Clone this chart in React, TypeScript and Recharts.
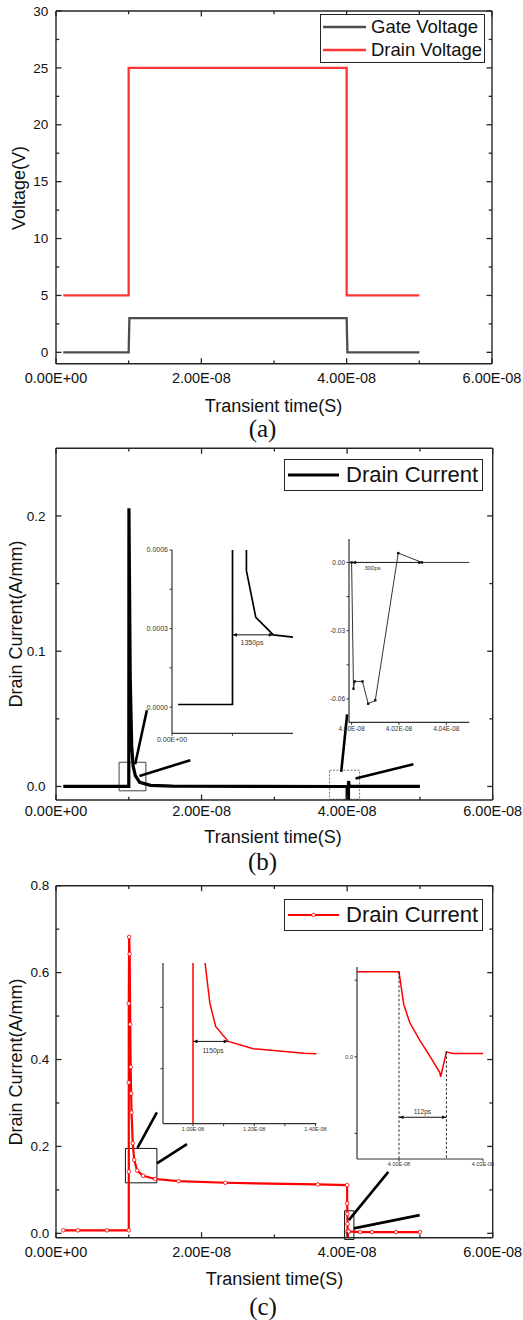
import React from "react";
import {
  LineChart,
  Line,
  XAxis,
  YAxis,
  Legend,
  ReferenceArea,
  ReferenceLine,
  ReferenceDot,
} from "recharts";

const SANS = '"Liberation Sans", Arial, Helvetica, sans-serif';
const SERIF = '"Liberation Serif", "Times New Roman", serif';
const FRAME = "#262626";
const W = 523;
const PANEL_H = 440;

// Time axis shared by all three panels (seconds)
const TIME_DOMAIN: [number, number] = [0, 6e-8];
const TIME_MAJOR = [0, 2e-8, 4e-8, 6e-8];
const TIME_MINOR = [1e-8, 3e-8, 5e-8];

// (a) gate / drain voltage
const GATE_T = [1e-9, 1.0e-8, 1.01e-8, 4.0e-8, 4.01e-8, 5.0e-8];
const GATE_V = [0, 0, 3, 3, 0, 0];
const VDRAIN_T = [1e-9, 1.0e-8, 1.0e-8, 4.0e-8, 4.0e-8, 5.0e-8];
const VDRAIN_V = [5, 5, 25, 25, 5, 5];
const VOLT_MAJOR = [0, 5, 10, 15, 20, 25, 30];
const VOLT_MINOR = [2.5, 7.5, 12.5, 17.5, 22.5, 27.5];

// (b) drain current, black trace
const IB_T = [
  1e-9, 1.0e-8, 1.002e-8, 1.02e-8, 1.04e-8, 1.06e-8, 1.09e-8, 1.15e-8, 1.3e-8, 1.6e-8,
  4.0e-8, 4.0008e-8, 4.0013e-8, 4.0046e-8, 4.007e-8, 4.01e-8, 4.0197e-8, 4.0297e-8, 5.0e-8,
];
const IB_I = [
  0, 0, 0.2056, 0.08, 0.03, 0.015, 0.008, 0.003, 0.0008, 0.0002,
  0, -0.0555, -0.0523, -0.0523, -0.0621, -0.0606, 0.0041, 0, 0,
];
const IB_MAJOR = [0, 0.1, 0.2];
const IB_MINOR = [0.05, 0.15];
// (b) left inset
const IB_ZOOM_T = [0.82e-8, 1.0e-8, 1.003e-8, 1.046e-8, 1.077e-8, 1.135e-8, 1.2e-8];
const IB_ZOOM_I = [0.00001, 0.00001, 0.2056, 0.000521, 0.000343, 0.000276, 0.000267];

// (c) drain current, red trace with markers
const IC_T = [
  1e-9, 3e-9, 7e-9, 1.0e-8, 1.0e-8, 1.0e-8, 1.0e-8,
  1.005e-8, 1.012e-8, 1.02e-8, 1.026e-8, 1.032e-8, 1.038e-8,
  1.055e-8, 1.074e-8, 1.115e-8, 1.197e-8, 1.363e-8, 1.684e-8, 2.326e-8, 3.597e-8, 4.0e-8,
  4.00112e-8, 4.00255e-8, 4.00493e-8, 4.00731e-8, 4.00969e-8, 4.00993e-8, 4.01129e-8, 4.01286e-8, 4.02e-8,
  4.18e-8, 4.34e-8, 4.67e-8, 5.0e-8,
];
const IC_I = [
  0.007, 0.007, 0.007, 0.007, 0.142, 0.347, 0.529,
  0.682, 0.643, 0.481, 0.383, 0.322, 0.278,
  0.2072, 0.169, 0.1445, 0.1326, 0.125, 0.12, 0.1164, 0.1126, 0.111,
  0.0687, 0.0448, 0.0218, 0.0013, -0.0203, -0.0261, 0.0065, 0.0044, 0.0044,
  0.003, 0.003, 0.003, 0.003,
];
const IC_MAJOR = [0, 0.2, 0.4, 0.6, 0.8];
const IC_MINOR = [0.1, 0.3, 0.5, 0.7];

const pts = (t: number[], v: number[]) => t.map((x, i) => ({ x, y: v[i] }));

// 2e-8 -> "2.00E-08"
const sci = (v: number) => {
  const [m, e] = v.toExponential(2).split("e");
  const n = Number(e);
  return `${m}E${n < 0 ? "-" : "+"}${String(Math.abs(n)).padStart(2, "0")}`;
};
const onlyFor = (major: number[], fmt: (v: number) => string) => (v: number) =>
  major.includes(v) ? fmt(v) : "";

type Side = "bottom" | "left" | "top" | "right";

// Inward ticks like the Origin frame; labels only on major ticks.
function frameTick(side: Side, major: number[], fmt?: (v: number) => string, gap = 0) {
  return (props: any) => {
    const { x, y, payload } = props;
    const v = payload.value as number;
    const isMajor = major.includes(v);
    const len = isMajor ? 5.5 : 3.3;
    const d =
      side === "bottom" ? [x, y, x, y - len]
      : side === "top" ? [x, y, x, y + len]
      : side === "left" ? [x, y, x + len, y]
      : [x, y, x - len, y];
    return (
      <g>
        <line x1={d[0]} y1={d[1]} x2={d[2]} y2={d[3]} stroke={FRAME} strokeWidth={1.3} />
        {isMajor && fmt && side === "bottom" && (
          <text x={x} y={y + gap} dy="0.35em" textAnchor="middle" fontSize={14.5} fontFamily={SANS} fill="#111">
            {fmt(v)}
          </text>
        )}
        {isMajor && fmt && side === "left" && (
          <text x={x - gap} y={y} dy="0.35em" textAnchor="end" fontSize={13.5} fontFamily={SANS} fill="#111">
            {fmt(v)}
          </text>
        )}
      </g>
    );
  };
}

const AXIS_LINE = { stroke: FRAME, strokeWidth: 1.4 };

// Four-sided frame: axes are 1px thick so Recharts still draws them;
// chart margins are reduced by that 1px so the plot box stays put.
function frameAxes(
  yDomain: [number, number],
  yMajor: number[],
  yMinor: number[],
  yFmt: (v: number) => string,
  yGap: number,
  xGap: number,
) {
  const xTicks = [...TIME_MAJOR, ...TIME_MINOR];
  const yTicks = [...yMajor, ...yMinor];
  const common = { allowDataOverflow: true, interval: 0 as const, tickSize: 0, tickMargin: 0, tickLine: false, axisLine: AXIS_LINE };
  return [
    <XAxis key="xb" type="number" dataKey="x" domain={TIME_DOMAIN} ticks={xTicks} height={1} {...common} tick={frameTick("bottom", TIME_MAJOR, sci, xGap)} />,
    <XAxis key="xt" xAxisId="top" orientation="top" type="number" dataKey="x" domain={TIME_DOMAIN} ticks={xTicks} height={1} {...common} tick={frameTick("top", TIME_MAJOR)} />,
    <YAxis key="yl" type="number" domain={yDomain} ticks={yTicks} width={1} {...common} tick={frameTick("left", yMajor, yFmt, yGap)} />,
    <YAxis key="yr" yAxisId="right" orientation="right" type="number" domain={yDomain} ticks={yTicks} width={1} {...common} tick={frameTick("right", yMajor)} />,
  ];
}

// plot box (left, top, right, bottom) -> margins for 1px frame axes
const frameMargin = (l: number, t: number, r: number, b: number) => ({
  left: l - 1,
  top: t - 1,
  right: W - r - 1,
  bottom: PANEL_H - b - 1,
});

type LegendOpts = { order: string[]; fontSize: number; rowH: number; lineW: number; padL: number; gap: number; stroke: number; marker?: boolean };
function legendContent(o: LegendOpts) {
  return (props: any) => {
    const items = [...(props.payload || [])].sort(
      (a: any, b: any) => o.order.indexOf(a.value) - o.order.indexOf(b.value),
    );
    return (
      <div
        style={{
          width: "100%",
          height: "100%",
          boxSizing: "border-box",
          border: `1.3px solid ${FRAME}`,
          background: "#fff",
          display: "flex",
          flexDirection: "column",
          justifyContent: "center",
          fontFamily: SANS,
        }}
      >
        {items.map((item: any) => (
          <div key={item.value} style={{ display: "flex", alignItems: "center", height: o.rowH, paddingLeft: o.padL }}>
            <svg width={o.lineW} height={10} style={{ flex: "none" }}>
              <line x1={0} y1={5} x2={o.lineW} y2={5} stroke={item.color} strokeWidth={o.stroke} />
              {o.marker && <circle cx={o.lineW / 2} cy={5} r={1.8} fill="#fff" stroke={item.color} strokeWidth={0.8} />}
            </svg>
            <span style={{ marginLeft: o.gap, fontSize: o.fontSize, lineHeight: 1, color: "#111", whiteSpace: "nowrap" }}>
              {item.value}
            </span>
          </div>
        ))}
      </div>
    );
  };
}

function Text({ x, y, size, font = SANS, rotate = false, children }: any) {
  return (
    <div
      style={{
        position: "absolute",
        left: x - 150,
        top: y - size / 2,
        width: 300,
        height: size,
        lineHeight: `${size}px`,
        fontSize: size,
        fontFamily: font,
        textAlign: "center",
        color: "#111",
        whiteSpace: "nowrap",
        transform: rotate ? "rotate(-90deg)" : undefined,
      }}
    >
      {children}
    </div>
  );
}

// Double-headed dimension arrow drawn along a reference segment
function arrowShape(props: any) {
  const { x1, y1, x2, y2 } = props;
  const a = Math.atan2(y2 - y1, x2 - x1);
  const head = (x: number, y: number, dir: number) => {
    const L = 4.5;
    const H = 1.8;
    const bx = x - Math.cos(dir) * L;
    const by = y - Math.sin(dir) * L;
    return `${x},${y} ${bx - Math.sin(dir) * H},${by + Math.cos(dir) * H} ${bx + Math.sin(dir) * H},${by - Math.cos(dir) * H}`;
  };
  return (
    <g>
      <line x1={x1} y1={y1} x2={x2} y2={y2} stroke="#111" strokeWidth={1} />
      <polygon points={head(x2, y2, a)} fill="#111" />
      <polygon points={head(x1, y1, a + Math.PI)} fill="#111" />
    </g>
  );
}

type InsetSpec = {
  box: [number, number, number, number];
  xDomain: [number, number];
  yDomain: [number, number];
  xTicks: number[];
  yTicks: number[];
  xLabel: (v: number) => string;
  yLabel: (v: number) => string;
  fontSize: number;
};

function Inset({ spec, children }: { spec: InsetSpec; children: React.ReactNode }) {
  const [l, t, w, h] = spec.box;
  const yw = 40;
  const xh = 14;
  const mt = 6;
  const mr = 16;
  const tick = { fontSize: spec.fontSize, fill: "#333", fontFamily: SANS };
  return (
    <div style={{ position: "absolute", left: l - yw, top: t - mt }}>
      <LineChart width={yw + w + mr} height={mt + h + xh} margin={{ top: mt, right: mr, bottom: 0, left: 0 }}>
        <XAxis
          type="number"
          dataKey="x"
          domain={spec.xDomain}
          allowDataOverflow
          ticks={spec.xTicks}
          interval={0}
          height={xh}
          tickSize={2.5}
          tickMargin={1}
          tickFormatter={spec.xLabel}
          tick={tick}
          axisLine={{ stroke: "#333", strokeWidth: 1.2 }}
          tickLine={{ stroke: "#333" }}
        />
        <YAxis
          type="number"
          domain={spec.yDomain}
          allowDataOverflow
          ticks={spec.yTicks}
          interval={0}
          width={yw}
          tickSize={2.5}
          tickMargin={1.5}
          tickFormatter={spec.yLabel}
          tick={tick}
          axisLine={{ stroke: "#333", strokeWidth: 1.2 }}
          tickLine={{ stroke: "#333" }}
        />
        {children}
      </LineChart>
    </div>
  );
}

const INSET_B1: InsetSpec = {
  box: [172.3, 110, 121, 183.3],
  xDomain: [0.8e-8, 1.2e-8],
  yDomain: [-0.0001, 0.0006],
  xTicks: [0.8e-8, 1.0e-8],
  yTicks: [0, 0.00015, 0.0003, 0.00045, 0.0006],
  xLabel: (v) => (v === 0.8e-8 ? "0.00E+00" : ""),
  yLabel: onlyFor([0, 0.0003, 0.0006], (v) => v.toFixed(4)),
  fontSize: 7,
};
const INSET_B2: InsetSpec = {
  box: [349, 99.3, 120.3, 183.4],
  xDomain: [3.9989e-8, 4.0497e-8],
  yDomain: [-0.0703, 0.0103],
  xTicks: [4.0e-8, 4.02e-8, 4.04e-8],
  yTicks: [-0.06, -0.045, -0.03, -0.015, 0],
  xLabel: sci,
  yLabel: onlyFor([0, -0.03, -0.06], (v) => v.toFixed(2)),
  fontSize: 6.5,
};
const INSET_C1: InsetSpec = {
  box: [163.3, 83.3, 153.4, 160.7],
  xDomain: [0.902e-8, 1.403e-8],
  yDomain: [0.0103, 0.2724],
  xTicks: [1.0e-8, 1.1e-8, 1.2e-8, 1.3e-8, 1.4e-8],
  yTicks: [0.1, 0.2],
  xLabel: onlyFor([1.0e-8, 1.2e-8, 1.4e-8], sci),
  yLabel: () => "",
  fontSize: 5.5,
};
const INSET_C2: InsetSpec = {
  box: [357.3, 87.3, 126, 192],
  xDomain: [3.99e-8, 4.02e-8],
  yDomain: [-0.1335, 0.1173],
  xTicks: [4.0e-8, 4.02e-8],
  yTicks: [-0.1, 0, 0.1],
  xLabel: sci,
  yLabel: onlyFor([0], (v) => v.toFixed(1)),
  fontSize: 5.5,
};

const squareDot = (p: any) => (
  <rect key={`sq-${p.index}`} x={p.cx - 1.2} y={p.cy - 1.2} width={2.4} height={2.4} fill="#111" />
);

const CONNECTOR = { stroke: "#000", strokeWidth: 2.6, ifOverflow: "visible" as const };

function PanelA() {
  return (
    <div style={{ position: "absolute", left: 0, top: 0, width: W, height: PANEL_H }}>
      <LineChart width={W} height={PANEL_H} margin={frameMargin(56, 11, 492, 363.7)}>
        {frameAxes([-1, 30], VOLT_MAJOR, VOLT_MINOR, (v) => String(v), 7.7, 14.6)}
        <Line data={pts(GATE_T, GATE_V)} dataKey="y" name="Gate Voltage" type="linear" stroke="#4d4d4d" strokeWidth={2.3} dot={false} isAnimationActive={false} />
        <Line data={pts(VDRAIN_T, VDRAIN_V)} dataKey="y" name="Drain Voltage" type="linear" stroke="#ff3535" strokeWidth={2.3} dot={false} isAnimationActive={false} />
        <Legend
          verticalAlign="middle"
          align="center"
          content={legendContent({ order: ["Gate Voltage", "Drain Voltage"], fontSize: 18.5, rowH: 23.3, lineW: 43, padL: 2, gap: 5, stroke: 2.3 })}
          wrapperStyle={{ left: 320, top: 14, width: 165, height: 49 }}
        />
      </LineChart>
      <Text x={19} y={187.5} size={18} rotate>Voltage(V)</Text>
      <Text x={273.5} y={405.5} size={18}>Transient time(S)</Text>
      <Text x={262.5} y={428} size={25} font={SERIF}>(a)</Text>
    </div>
  );
}

function PanelB() {
  const ib = pts(IB_T, IB_I);
  return (
    <div style={{ position: "absolute", left: 0, top: PANEL_H, width: W, height: PANEL_H }}>
      <LineChart width={W} height={PANEL_H} margin={frameMargin(56, 8.3, 492.7, 360)}>
        {frameAxes([-0.01, 0.25], IB_MAJOR, IB_MINOR, (v) => v.toFixed(1), 10.5, 11)}
        <ReferenceArea x1={0.867e-8} x2={1.235e-8} y1={-0.0032} y2={0.0179} fill="none" stroke="#444" strokeWidth={1} ifOverflow="visible" />
        <ReferenceArea x1={3.758e-8} x2={4.171e-8} y1={-0.0094} y2={0.012} fill="none" stroke="#666" strokeWidth={0.9} strokeDasharray="2 1.5" ifOverflow="visible" />
        <Line data={ib} dataKey="y" name="Drain Current" type="linear" stroke="#000" strokeWidth={3.2} dot={false} isAnimationActive={false} />
        <ReferenceLine segment={[{ x: 1.0874e-8, y: 0.0164 }, { x: 1.2485e-8, y: 0.0564 }]} {...CONNECTOR} />
        <ReferenceLine segment={[{ x: 1.1466e-8, y: 0.0078 }, { x: 1.8445e-8, y: 0.0194 }]} {...CONNECTOR} />
        <ReferenceLine segment={[{ x: 3.919e-8, y: 0.0108 }, { x: 4.0e-8, y: 0.0533 }]} {...CONNECTOR} />
        <ReferenceLine segment={[{ x: 4.1156e-8, y: 0.0059 }, { x: 4.91e-8, y: 0.0164 }]} {...CONNECTOR} />
        <Legend
          verticalAlign="middle"
          align="center"
          content={legendContent({ order: ["Drain Current"], fontSize: 22, rowH: 30, lineW: 51, padL: 3, gap: 7, stroke: 3 })}
          wrapperStyle={{ left: 284, top: 19, width: 199, height: 32 }}
        />
      </LineChart>
      <Inset spec={INSET_B1}>
        <Line data={pts(IB_ZOOM_T, IB_ZOOM_I)} dataKey="y" type="linear" stroke="#000" strokeWidth={1.7} dot={false} isAnimationActive={false} />
        <ReferenceLine segment={[{ x: 1.0e-8, y: 0.000276 }, { x: 1.135e-8, y: 0.000276 }]} shape={arrowShape} ifOverflow="visible" />
        <ReferenceDot x={1.0645e-8} y={0.000248} r={0} fill="none" stroke="none" ifOverflow="visible" label={{ value: "1350ps", position: "center", fontSize: 7, fill: "#333", fontFamily: SANS }} />
      </Inset>
      <Inset spec={INSET_B2}>
        <Line data={ib} dataKey="y" type="linear" stroke="#333" strokeWidth={1} dot={squareDot} isAnimationActive={false} />
        <ReferenceLine segment={[{ x: 4.0e-8, y: 0 }, { x: 4.03e-8, y: 0 }]} shape={arrowShape} ifOverflow="visible" />
        <ReferenceDot x={4.00885e-8} y={-0.0025} r={0} fill="none" stroke="none" ifOverflow="visible" label={{ value: "300ps", position: "center", fontSize: 6, fill: "#333", fontFamily: SANS }} />
      </Inset>
      <Text x={16} y={184} size={18} rotate>Drain Current(A/mm)</Text>
      <Text x={273} y={396.7} size={18}>Transient time(S)</Text>
      <Text x={262.5} y={421.7} size={25} font={SERIF}>(b)</Text>
    </div>
  );
}

function PanelC() {
  const ic = pts(IC_T, IC_I);
  return (
    <div style={{ position: "absolute", left: 0, top: 2 * PANEL_H, width: W, height: PANEL_H }}>
      <LineChart width={W} height={PANEL_H} margin={frameMargin(56, 5.7, 492.7, 357.7)}>
        {frameAxes([-0.01, 0.8], IC_MAJOR, IC_MINOR, (v) => v.toFixed(1), 6.7, 14.6)}
        <Line
          data={ic}
          dataKey="y"
          name="Drain Current"
          type="linear"
          stroke="#ff0000"
          strokeWidth={2.2}
          dot={{ r: 1.8, fill: "#fff", stroke: "#ff0000", strokeWidth: 0.8 }}
          isAnimationActive={false}
        />
        <ReferenceArea x1={0.954e-8} x2={1.386e-8} y1={0.1163} y2={0.1954} fill="none" stroke="#111" strokeWidth={1} ifOverflow="visible" />
        <ReferenceArea x1={3.965e-8} x2={4.093e-8} y1={-0.014} y2={0.052} fill="none" stroke="#111" strokeWidth={1} ifOverflow="visible" />
        <ReferenceLine segment={[{ x: 1.119e-8, y: 0.1968 }, { x: 1.386e-8, y: 0.2782 }]} {...CONNECTOR} />
        <ReferenceLine segment={[{ x: 1.386e-8, y: 0.161 }, { x: 1.799e-8, y: 0.2053 }]} {...CONNECTOR} />
        <ReferenceLine segment={[{ x: 4.023e-8, y: 0.0306 }, { x: 4.566e-8, y: 0.1416 }]} {...CONNECTOR} />
        <ReferenceLine segment={[{ x: 4.092e-8, y: 0.0115 }, { x: 4.996e-8, y: 0.042 }]} {...CONNECTOR} />
        <Legend
          verticalAlign="middle"
          align="center"
          content={legendContent({ order: ["Drain Current"], fontSize: 22, rowH: 30, lineW: 51, padL: 3, gap: 7, stroke: 2.2, marker: true })}
          wrapperStyle={{ left: 284, top: 19, width: 199, height: 32 }}
        />
      </LineChart>
      <Inset spec={INSET_C1}>
        <Line data={ic} dataKey="y" type="linear" stroke="#ff0000" strokeWidth={1.5} dot={false} isAnimationActive={false} />
        <ReferenceLine segment={[{ x: 1.0e-8, y: 0.1445 }, { x: 1.115e-8, y: 0.1445 }]} shape={arrowShape} ifOverflow="visible" />
        <ReferenceDot x={1.0653e-8} y={0.1287} r={0} fill="none" stroke="none" ifOverflow="visible" label={{ value: "1150ps", position: "center", fontSize: 6.6, fill: "#333", fontFamily: SANS }} />
      </Inset>
      <Inset spec={INSET_C2}>
        <Line data={ic} dataKey="y" type="linear" stroke="#ff0000" strokeWidth={1.5} dot={false} isAnimationActive={false} />
        <ReferenceLine segment={[{ x: 4.0e-8, y: 0.111 }, { x: 4.0e-8, y: -0.1335 }]} stroke="#111" strokeWidth={0.9} strokeDasharray="2.5 2" ifOverflow="visible" />
        <ReferenceLine segment={[{ x: 4.01129e-8, y: 0.0065 }, { x: 4.01129e-8, y: -0.1335 }]} stroke="#111" strokeWidth={0.9} strokeDasharray="2.5 2" ifOverflow="visible" />
        <ReferenceLine segment={[{ x: 4.0e-8, y: -0.079 }, { x: 4.01129e-8, y: -0.079 }]} shape={arrowShape} ifOverflow="visible" />
        <ReferenceDot x={4.00557e-8} y={-0.0717} r={0} fill="none" stroke="none" ifOverflow="visible" label={{ value: "112ps", position: "center", fontSize: 6.6, fill: "#333", fontFamily: SANS }} />
      </Inset>
      <Text x={15.7} y={181.7} size={18} rotate>Drain Current(A/mm)</Text>
      <Text x={274.5} y={399} size={18}>Transient time(S)</Text>
      <Text x={263} y={426} size={25} font={SERIF}>(c)</Text>
    </div>
  );
}

export default function App() {
  return (
    <div style={{ position: "absolute", left: 0, top: 0, width: W, height: 3 * PANEL_H, background: "#fff" }}>
      <style>{".recharts-surface{overflow:visible}"}</style>
      <PanelA />
      <PanelB />
      <PanelC />
    </div>
  );
}
